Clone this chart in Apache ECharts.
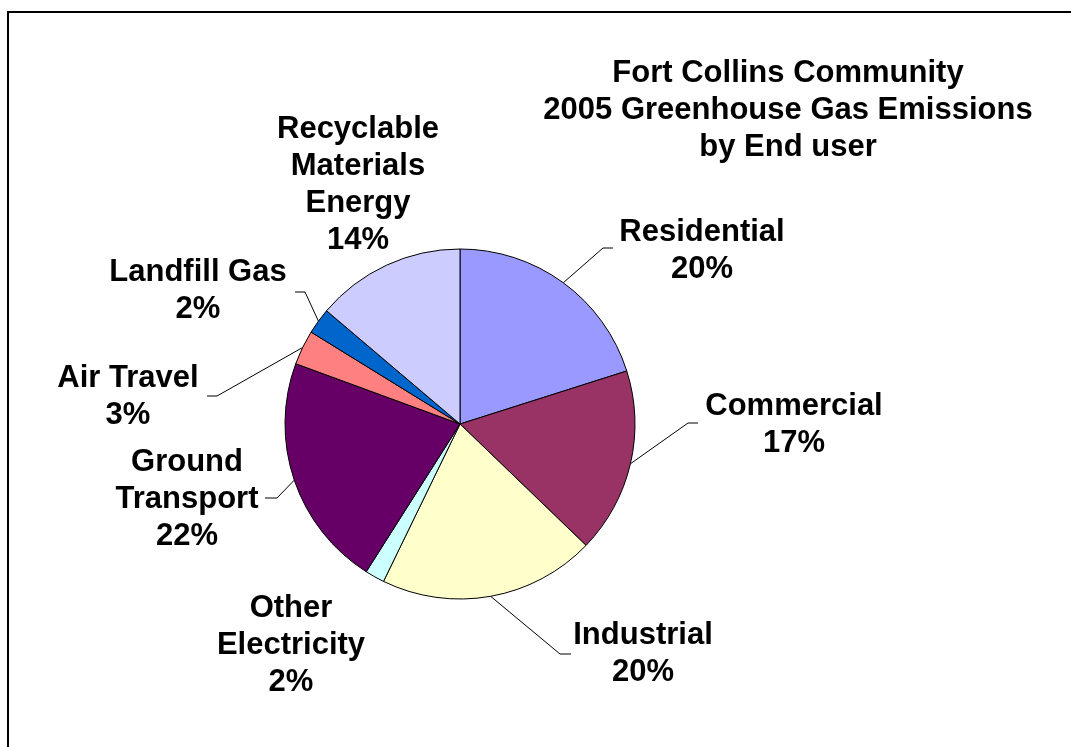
<!DOCTYPE html>
<html>
<head>
<meta charset="utf-8">
<title>Fort Collins Community 2005 Greenhouse Gas Emissions by End user</title>
<script src="https://cdn.jsdelivr.net/npm/echarts@6/dist/echarts.min.js"></script>
<style>
  html, body { margin: 0; padding: 0; background: #fff; }
  #chart { width: 1071px; height: 747px; }
</style>
</head>
<body>
<div id="chart"></div>
<script>
// slices, clockwise from 12 o'clock
var categories = ['Residential', 'Commercial', 'Industrial', 'Other Electricity',
  'Ground Transport', 'Air Travel', 'Landfill Gas', 'Recyclable Materials Energy'];
var shares = [20.1, 17.1, 20.0, 1.8, 21.6, 3.2, 2.4, 13.8];
// how each category label is broken into lines
var labelText = ['Residential', 'Commercial', 'Industrial', 'Other\nElectricity',
  'Ground\nTransport', 'Air Travel', 'Landfill Gas', 'Recyclable\nMaterials\nEnergy'];

var colors = ['#9999FF', '#993366', '#FFFFCC', '#CCFFFF', '#660066', '#FF8080', '#0066CC', '#CCCCFF'];

// label placement: centre of text block, elbow of leader and its end (null = no leader)
var labelPlace = [
  { x: 702, y: 251, elbow: [603, 248], end: [613, 248] },
  { x: 794, y: 425, elbow: [688, 423], end: [698, 423] },
  { x: 643, y: 654, elbow: [560, 654], end: [571, 654] },
  { x: 291, y: 645, elbow: null },
  { x: 187, y: 499, elbow: [277, 498], end: [265, 498] },
  { x: 128, y: 397, elbow: [217, 396], end: [207, 396] },
  { x: 198, y: 291, elbow: [305, 292], end: [295, 292] },
  { x: 358, y: 185, elbow: null }
];

var font = '"Liberation Sans", Arial, Helvetica, sans-serif';

var chart = echarts.init(document.getElementById('chart'));

var pieData = categories.map(function (name, i) {
  var item = { name: name, value: shares[i], itemStyle: { color: colors[i] } };
  if (!labelPlace[i].elbow) {
    item.labelLine = { show: false };
  }
  return item;
});

var option = {
  animation: false,
  backgroundColor: '#fff',
  graphic: [
    {
      type: 'rect',
      shape: { x: 8, y: 12, width: 1100, height: 800 },
      style: { fill: 'none', stroke: '#000', lineWidth: 2 },
      silent: true
    },
    {
      type: 'text',
      x: 788,
      y: 55,
      style: {
        text: 'Fort Collins Community\n2005 Greenhouse Gas Emissions\nby End user',
        align: 'center',
        verticalAlign: 'top',
        fill: '#000',
        fontFamily: font,
        fontWeight: 'bold',
        fontSize: 31,
        lineHeight: 37
      }
    }
  ],
  series: [
    {
      type: 'pie',
      center: [460, 424],
      radius: 175,
      startAngle: 90,
      clockwise: true,
      avoidLabelOverlap: false,
      data: pieData,
      itemStyle: { borderColor: '#000', borderWidth: 1 },
      label: {
        show: true,
        position: 'outside',
        color: '#000',
        fontFamily: font,
        fontWeight: 'bold',
        fontSize: 31,
        lineHeight: 37,
        formatter: function (p) {
          return labelText[p.dataIndex] + '\n' + Math.round(p.percent) + '%';
        }
      },
      labelLine: {
        show: true,
        lineStyle: { color: '#000', width: 1 }
      },
      labelLayout: function (params) {
        var place = labelPlace[params.dataIndex];
        var out = { x: place.x, y: place.y, align: 'center', verticalAlign: 'middle' };
        if (place.elbow && params.labelLinePoints) {
          out.labelLinePoints = [params.labelLinePoints[0], place.elbow, place.end];
        }
        return out;
      }
    }
  ]
};

chart.setOption(option);
</script>
</body>
</html>
